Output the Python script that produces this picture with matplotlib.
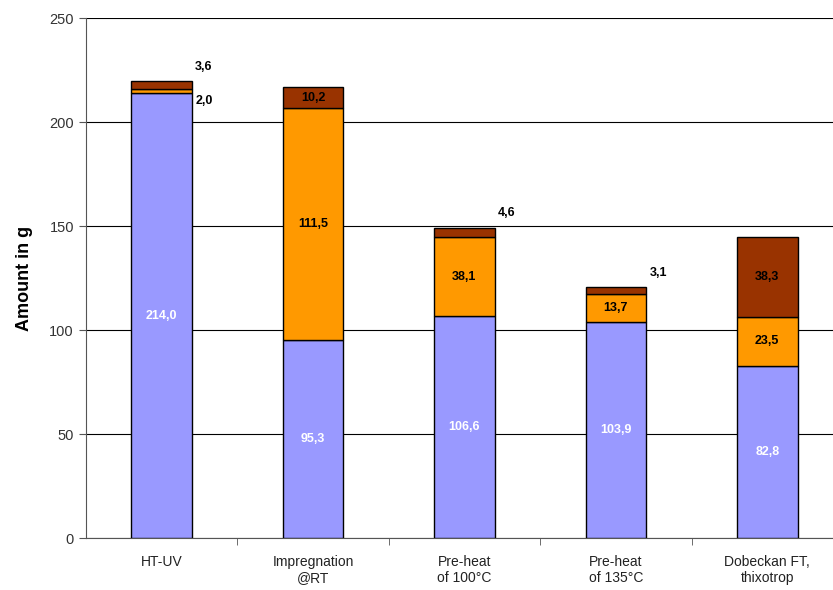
import numpy as np
import matplotlib.pyplot as plt

categories = ["HT-UV", "Impregnation\n@RT", "Pre-heat\nof 100°C", "Pre-heat\nof 135°C", "Dobeckan FT,\nthixotrop"]
blue_vals = [214.0, 95.3, 106.6, 103.9, 82.8]
orange_vals = [2.0, 111.5, 38.1, 13.7, 23.5]
brown_vals = [3.6, 10.2, 4.6, 3.1, 38.3]

plt.rcParams['font.family'] = ['Liberation Sans', 'DejaVu Sans']

fig = plt.figure(figsize=(8.33, 5.9), dpi=100)
# plot area runs a little past the right edge of the image, as in the original
ax = fig.add_axes([0.103, 0.088, 0.909, 0.881])

x = np.arange(len(categories))
w = 0.4
blue = np.array(blue_vals)
orange = np.array(orange_vals)
brown = np.array(brown_vals)

ax.bar(x, blue, w, color="#9999FF", edgecolor="black", linewidth=1, zorder=3)
ax.bar(x, orange, w, bottom=blue, color="#FF9900", edgecolor="black", linewidth=1, zorder=3)
ax.bar(x, brown, w, bottom=blue + orange, color="#993300", edgecolor="black", linewidth=1, zorder=3)

def fmt(v):
    return f"{v:.1f}".replace(".", ",")

for i in x:
    ax.text(i, blue[i] / 2, fmt(blue[i]), ha="center", va="center", color="white",
            fontsize=9, fontweight="bold", zorder=4)
    # small segments get their label outside, to the right
    if orange[i] >= 10:
        ax.text(i, blue[i] + orange[i] / 2, fmt(orange[i]), ha="center", va="center",
                fontsize=9, fontweight="bold", zorder=4)
    else:
        ax.text(i + 0.28, blue[i] + orange[i] - 6, fmt(orange[i]), ha="center", va="center",
                fontsize=9, fontweight="bold", zorder=4)
    top = blue[i] + orange[i] + brown[i]
    if brown[i] >= 10:
        ax.text(i, top - brown[i] / 2, fmt(brown[i]), ha="center", va="center",
                fontsize=9, fontweight="bold", zorder=4)
    else:
        ax.text(i + 0.28, top + 7, fmt(brown[i]), ha="center", va="center",
                fontsize=9, fontweight="bold", zorder=4)

ax.set_xlim(-0.5, len(categories) - 0.5)
ax.set_ylim(0, 250)
ax.set_yticks(range(0, 251, 50))
ax.yaxis.grid(True, color="black", linewidth=0.8, zorder=0)
ax.set_ylabel("Amount in g", fontsize=13, fontweight="bold", labelpad=12)

ax.set_xticks(x)
ax.set_xticklabels(categories, fontsize=10, color="#222222")
ax.set_xticks(np.arange(0.5, len(categories) - 0.5, 1), minor=True)
ax.tick_params(axis="x", which="major", length=0, pad=12)
ax.tick_params(axis="x", which="minor", length=5, color="#555555")
ax.tick_params(axis="y", length=5, color="#555555", labelsize=10.5, labelcolor="#333333")

for s in ["top", "right"]:
    ax.spines[s].set_visible(False)
ax.spines["left"].set_color("#555555")
ax.spines["bottom"].set_color("#555555")

fig.savefig("out.png", dpi=100)
